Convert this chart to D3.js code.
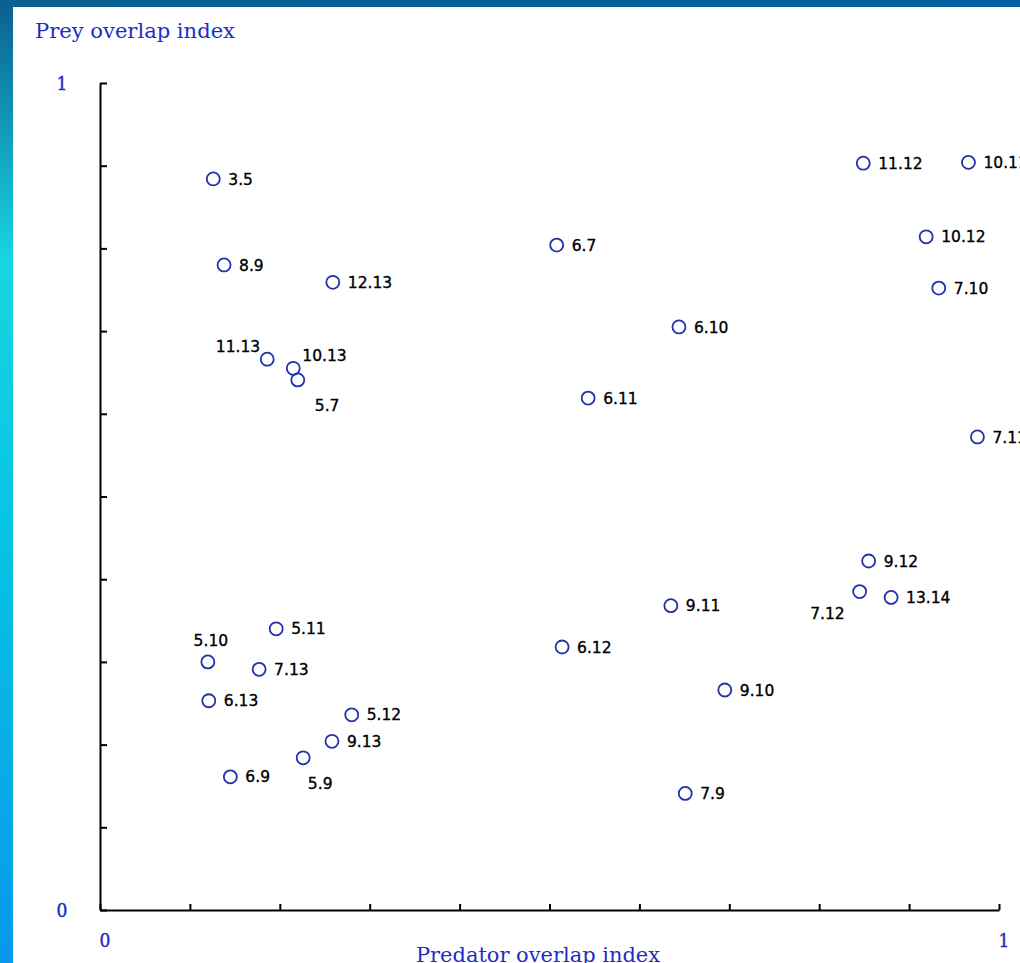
<!DOCTYPE html>
<html>
<head>
<meta charset="utf-8">
<script src="https://cdn.jsdelivr.net/npm/d3@7"></script>
<style>
  html, body { margin: 0; padding: 0; background: #fff; }
  svg { display: block; }
</style>
</head>
<body>
<svg id="chart" width="1020" height="963"></svg>
<script>
// ---- data ----
const pairLabels = ["3.5","8.9","12.13","11.13","10.13","5.7","6.7","6.10","6.11","11.12","10.11","10.12","7.10","7.11","9.12","13.14","7.12","9.11","6.12","9.10","7.9","5.11","5.10","7.13","6.13","5.12","9.13","5.9","6.9"];
const predatorOverlap = [0.126,0.138,0.259,0.186,0.215,0.220,0.508,0.644,0.543,0.849,0.966,0.919,0.933,0.976,0.855,0.880,0.845,0.635,0.514,0.695,0.651,0.196,0.120,0.177,0.121,0.280,0.258,0.226,0.145];
const preyOverlap =     [0.884,0.780,0.759,0.666,0.655,0.641,0.804,0.705,0.619,0.903,0.904,0.814,0.752,0.572,0.422,0.378,0.385,0.368,0.318,0.266,0.141,0.340,0.300,0.291,0.253,0.236,0.204,0.184,0.161];
const axisTicks = [0,0.1,0.2,0.3,0.4,0.5,0.6,0.7,0.8,0.9,1];
const endLabels = ["0","1"];
const yTitle = "Prey overlap index";
const xTitle = "Predator overlap index";

// label placement (layout only)
const placement = {
  "11.13": {dx:-7, dy:-13, anchor:"end"},
  "10.13": {dx:9, dy:-13, anchor:"start"},
  "5.7":   {dx:17, dy:26, anchor:"start"},
  "5.10":  {dx:3, dy:-21, anchor:"middle"},
  "5.9":   {dx:17, dy:26, anchor:"middle"},
  "7.12":  {dx:-15, dy:22, anchor:"end"}
};

const svg = d3.select("#chart");
const W = 1020, H = 963;

// ---- background frame ----
const defs = svg.append("defs");
const lg = defs.append("linearGradient").attr("id","leftGrad").attr("x1",0).attr("y1",0).attr("x2",0).attr("y2",1);
lg.append("stop").attr("offset","0%").attr("stop-color","#0a5f92");
lg.append("stop").attr("offset","27%").attr("stop-color","#16d6e0");
lg.append("stop").attr("offset","55%").attr("stop-color","#06c4e4");
lg.append("stop").attr("offset","100%").attr("stop-color","#0898ea");
const tg = defs.append("linearGradient").attr("id","topGrad").attr("x1",0).attr("y1",0).attr("x2",1).attr("y2",0);
tg.append("stop").attr("offset","0%").attr("stop-color","#0a6090");
tg.append("stop").attr("offset","100%").attr("stop-color","#0060a0");

svg.append("rect").attr("x",0).attr("y",0).attr("width",W).attr("height",H).attr("fill","#fff");
svg.append("rect").attr("x",0).attr("y",0).attr("width",W).attr("height",7).attr("fill","url(#topGrad)");
svg.append("rect").attr("x",0).attr("y",0).attr("width",13).attr("height",H).attr("fill","url(#leftGrad)");

// ---- scales ----
const x = d3.scaleLinear().domain([0,1]).range([100,999]);
const y = d3.scaleLinear().domain([0,1]).range([910,83]);

// ---- axes ----
const xAxis = d3.axisTop(x).tickValues(axisTicks).tickSize(6).tickSizeOuter(0).tickFormat("");
const yAxis = d3.axisRight(y).tickValues(axisTicks).tickSize(7).tickSizeOuter(0).tickFormat("");

const gx = svg.append("g").attr("transform","translate(0,910)").call(xAxis);
const gy = svg.append("g").attr("transform","translate(100,0)").call(yAxis);
[gx, gy].forEach(g => {
  g.select(".domain").attr("stroke","#000").attr("stroke-width",2);
  g.selectAll(".tick line").attr("stroke","#000").attr("stroke-width",2);
});

const blue = "#1c2dc4";
const tickFont = "'DejaVu Serif Condensed', 'DejaVu Serif', serif";

// y end labels
svg.selectAll(".ylab").data(endLabels).enter().append("text")
  .attr("class","ylab")
  .attr("x",62).attr("y",d => y(+d) + 7)
  .attr("text-anchor","middle")
  .attr("font-family",tickFont).attr("font-size",19)
  .attr("fill",blue).attr("stroke",blue).attr("stroke-width",0.4).text(d => d);

// x end labels
svg.selectAll(".xlab").data(endLabels).enter().append("text")
  .attr("class","xlab")
  .attr("x",d => x(+d) + 5).attr("y",947)
  .attr("text-anchor","middle")
  .attr("font-family",tickFont).attr("font-size",19)
  .attr("fill",blue).attr("stroke",blue).attr("stroke-width",0.4).text(d => d);

// titles
svg.append("text").attr("x",35).attr("y",38)
  .attr("font-family",tickFont).attr("font-size",20)
  .attr("textLength",200).attr("lengthAdjust","spacingAndGlyphs")
  .attr("fill",blue).text(yTitle);

svg.append("text").attr("x",416).attr("y",962)
  .attr("font-family",tickFont).attr("font-size",20)
  .attr("textLength",244).attr("lengthAdjust","spacingAndGlyphs")
  .attr("fill",blue).text(xTitle);

// ---- points ----
const pts = pairLabels.map((lab,i) => ({lab, px: predatorOverlap[i], py: preyOverlap[i]}));

svg.append("g").selectAll("circle").data(pts).enter().append("circle")
  .attr("cx",d => x(d.px)).attr("cy",d => y(d.py))
  .attr("r",6.5)
  .attr("fill","none")
  .attr("stroke","#2232a8").attr("stroke-width",1.8);

svg.append("g").selectAll("text").data(pts).enter().append("text")
  .attr("x",d => x(d.px) + (placement[d.lab] ? placement[d.lab].dx : 15))
  .attr("y",d => y(d.py) + (placement[d.lab] ? placement[d.lab].dy : 0))
  .attr("dy","0.36em")
  .attr("text-anchor",d => placement[d.lab] ? placement[d.lab].anchor : "start")
  .attr("font-family","'DejaVu Sans', sans-serif")
  .attr("font-size",15.5)
  .attr("fill","#000").attr("stroke","#000").attr("stroke-width",0.35)
  .text(d => d.lab);
</script>
</body>
</html>
